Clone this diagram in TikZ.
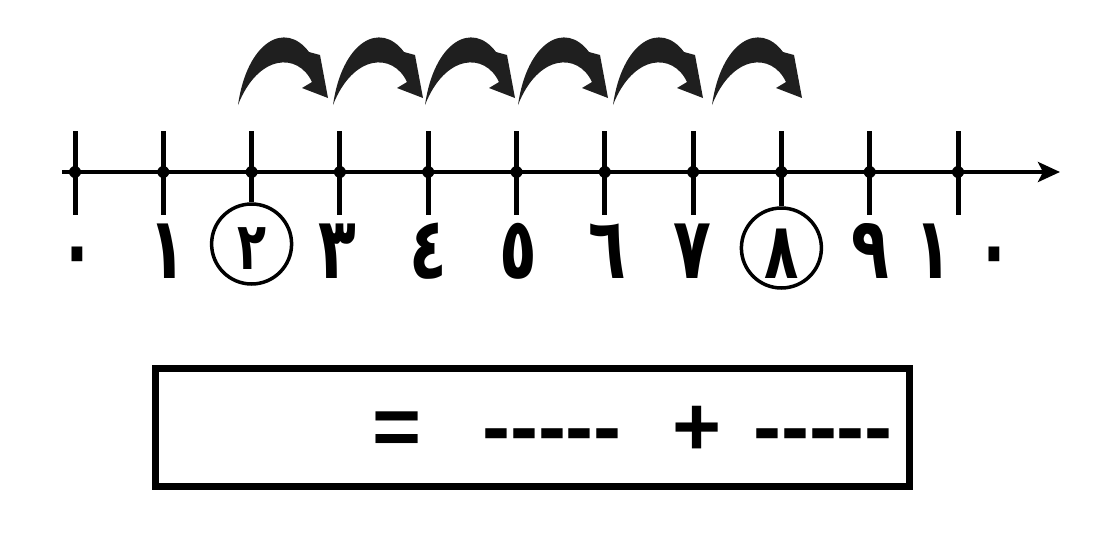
\documentclass[tikz,border=0pt]{standalone}
\usepackage{fontspec}
\setmainfont{Liberation Sans}[Ligatures=TeXOff]
\newfontfamily\arabicfont[Script=Arabic,FakeStretch=0.72]{DejaVu Sans}
\usetikzlibrary{arrows.meta}
\tikzset{
  axisline/.style={line width=4pt},
  tickline/.style={line width=5pt},
  circ/.style={circle,draw,line width=3.5pt,minimum size=80pt,inner sep=0pt},
  digit/.style={font=\fontsize{86}{90}\selectfont\arabicfont\bfseries,inner sep=0pt,anchor=base},
  digitsmall/.style={font=\fontsize{66}{70}\selectfont\arabicfont\bfseries,inner sep=0pt,anchor=base},
  digitmid/.style={font=\fontsize{78}{82}\selectfont\arabicfont\bfseries,inner sep=0pt,anchor=base},
  hop/.style={fill=black!88},
  eqtext/.style={font=\fontsize{84}{90}\selectfont\bfseries,inner sep=0pt,anchor=base},
  framebox/.style={draw,line width=7pt,minimum width=754pt,minimum height=118pt,inner sep=0pt}
}
\begin{document}
\begin{tikzpicture}[x=1pt,y=-1pt]
\useasboundingbox (0,0) rectangle (1101,552);
\fill[white] (0,0) rectangle (1101,552);
% axis
\coordinate (a0) at (62,172);
\coordinate (a1) at (1060,172);
\draw[axisline,-{Stealth[length=22pt,width=20pt,inset=5pt]}] (a0) -- (a1);
\foreach \k in {0,...,10} \coordinate (t\k) at ({75+88.3*\k},172);
% circles
\node[circ] (c2) at ([yshift=-72pt]t2) {};
\node[circ] (c8) at ([yshift=-76pt]t8) {};
% ticks
\foreach \k in {0,1,3,4,5,6,7,9,10}
  \draw[tickline] ([yshift=41pt]t\k) -- ([yshift=-43pt]t\k);
\draw[tickline] ([yshift=41pt]t2) -- (c2.north);
\draw[tickline] ([yshift=41pt]t8) -- (c8.north);
\foreach \k in {0,...,10} \fill (t\k) circle (6);
% hop arrows (tail x positions)
\foreach \x in {238,333,425,518,613,712}{
  \begin{scope}[shift={(\x,172)}]
    \fill[hop] (0,-67) .. controls (9,-130) and (47,-152) .. (71,-120)
      -- (82,-117) -- (90,-74) -- (64,-84) -- (74,-90)
      .. controls (60,-120) and (20,-118) .. (0,-67) -- cycle;
  \end{scope}
}
% digits
\node[digit] (d0) at (77,278) {٠};
\node[digit] (d1) at (167,278) {١};
\node[digitsmall] (d2) at (252,269) {٢};
\node[digit] (d3) at (337,278) {٣};
\node[digit] (d4) at (428,278) {٤};
\node[digit] (d5) at (518,278) {٥};
\node[digit] (d6) at (607,278) {٦};
\node[digit] (d7) at (692,278) {٧};
\node[digitmid] (d8) at (782,278) {٨};
\node[digit] (d9) at (870,278) {٩};
\node[digit] (d10) at (964,278) {١\hspace{24pt}٠};
% equation box
\node[framebox] (box) at (532.5,427.5) {};
\node[eqtext] (eq) at (397,455) {=};
\node[eqtext] (blank1) at (552,455) {-----};
\node[eqtext] (plus) at (697,455) {+};
\node[eqtext] (blank2) at (823,455) {-----};
\end{tikzpicture}
\end{document}
